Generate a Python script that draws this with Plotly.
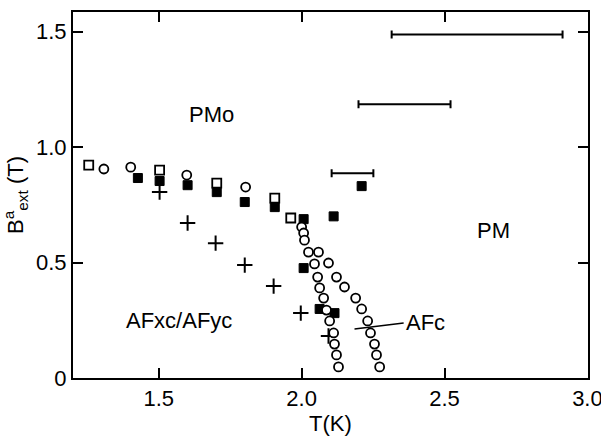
import plotly.graph_objects as go

# Upper row of open squares (low-temperature boundary)
sq_open_T = [1.255, 1.503, 1.703, 1.906, 1.962]
sq_open_B = [0.922, 0.900, 0.844, 0.779, 0.693]

# Open circles along the upper row
circ_up_T = [1.308, 1.402, 1.598, 1.804]
circ_up_B = [0.905, 0.913, 0.879, 0.827]

# Filled squares
sq_fill_T = [1.427, 1.503, 1.601, 1.703, 1.801, 1.906, 2.007, 2.007, 2.063, 2.115, 2.112, 2.210]
sq_fill_B = [0.866, 0.853, 0.835, 0.805, 0.762, 0.740, 0.688, 0.476, 0.299, 0.281, 0.700, 0.831]

# Crosses
plus_T = [1.503, 1.601, 1.699, 1.801, 1.902, 1.997, 2.094]
plus_B = [0.805, 0.671, 0.584, 0.489, 0.398, 0.281, 0.182]

# Open circles, left branch
circ_l_T = [2.000, 2.007, 2.010, 2.024, 2.045, 2.056, 2.063, 2.077, 2.087, 2.098, 2.112, 2.115, 2.122, 2.129]
circ_l_B = [0.654, 0.628, 0.597, 0.545, 0.494, 0.437, 0.390, 0.346, 0.294, 0.247, 0.195, 0.147, 0.100, 0.048]

# Open circles, right branch
circ_r_T = [2.059, 2.094, 2.122, 2.150, 2.189, 2.210, 2.231, 2.241, 2.255, 2.262, 2.273]
circ_r_B = [0.545, 0.498, 0.437, 0.394, 0.346, 0.299, 0.247, 0.195, 0.147, 0.100, 0.048]

# Horizontal uncertainty bars: centre, half-width, field
err_T = [2.178, 2.360, 2.614]
err_dT = [0.073, 0.161, 0.299]
err_B = [0.887, 1.186, 1.488]

# Axis ticks
x_ticks = [1.5, 2.0, 2.5, 3.0]
x_ticklabels = ["1.5", "2.0", "2.5", "3.0"]
y_ticks = [0, 0.5, 1.0, 1.5]
y_ticklabels = ["0", "0.5", "1.0", "1.5"]

FONT = "Liberation Sans, Arial, sans-serif"
BLACK = "black"
FS = 22

fig = go.Figure()

fig.add_trace(go.Scatter(
    x=err_T, y=err_B, mode="markers",
    marker=dict(size=1, color="rgba(0,0,0,0)"),
    error_x=dict(type="data", array=err_dT, symmetric=True,
                 color=BLACK, thickness=2, width=4),
))

fig.add_trace(go.Scatter(
    x=plus_T, y=plus_B, mode="markers",
    marker=dict(symbol="cross-thin", size=11, line=dict(color=BLACK, width=2)),
))

fig.add_trace(go.Scatter(
    x=sq_fill_T, y=sq_fill_B, mode="markers",
    marker=dict(symbol="square", size=9, color=BLACK, line=dict(color=BLACK, width=1)),
))

fig.add_trace(go.Scatter(
    x=sq_open_T, y=sq_open_B, mode="markers",
    marker=dict(symbol="square", size=9, color="white", line=dict(color=BLACK, width=1.8)),
))

for xs, ys in [(circ_up_T, circ_up_B), (circ_l_T, circ_l_B), (circ_r_T, circ_r_B)]:
    fig.add_trace(go.Scatter(
        x=xs, y=ys, mode="markers",
        marker=dict(symbol="circle", size=9, color="white", line=dict(color=BLACK, width=1.8)),
    ))

# Leader line for the AFc label
fig.add_shape(type="line", x0=2.185, y0=0.212, x1=2.357, y1=0.238,
              line=dict(color=BLACK, width=1.5))

labels = [
    ("PMo", 1.685, 1.143),
    ("PM", 2.671, 0.640),
    ("AFxc/AFyc", 1.570, 0.251),
    ("AFc", 2.434, 0.242),
]
for txt, x, y in labels:
    fig.add_annotation(x=x, y=y, text=txt, showarrow=False,
                       font=dict(family=FONT, size=FS, color=BLACK))

axis_common = dict(
    showline=True, linecolor=BLACK, linewidth=2, mirror="ticks",
    ticks="inside", ticklen=10, tickwidth=2, tickcolor=BLACK,
    showgrid=False, zeroline=False, ticklabeloverflow="allow",
    automargin=False,
    tickfont=dict(family=FONT, size=FS, color=BLACK),
)

fig.update_xaxes(
    range=[1.2, 3.002], tickvals=x_ticks, ticktext=x_ticklabels,
    title=dict(text="T(K)", font=dict(family=FONT, size=FS, color=BLACK), standoff=6),
    **axis_common,
)
fig.update_yaxes(
    range=[0, 1.585], tickvals=y_ticks, ticktext=y_ticklabels,
    title=dict(text="B<sup>a</sup><sub>ext</sub> (T)",
               font=dict(family=FONT, size=FS, color=BLACK), standoff=8),
    **axis_common,
)

fig.update_layout(
    width=601, height=436,
    margin=dict(l=73, r=13, t=12, b=58),
    paper_bgcolor="white", plot_bgcolor="white",
    showlegend=False,
)

fig.write_html("out.html")
